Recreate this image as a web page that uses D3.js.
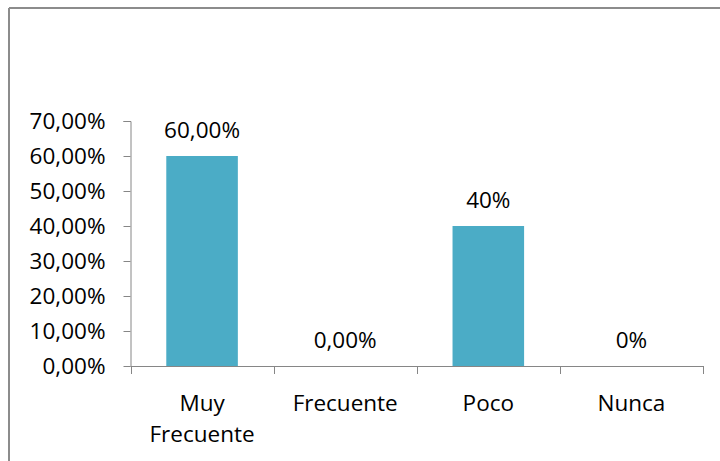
<!DOCTYPE html>
<html>
<head>
<meta charset="utf-8">
<script src="https://cdn.jsdelivr.net/npm/d3@7"></script>
<style>
  html, body { margin: 0; padding: 0; background: #fff; }
  svg { display: block; }
  text { font-family: "Open Sans", "Noto Sans", sans-serif; fill: #000; }
</style>
</head>
<body>
<svg id="chart" width="720" height="461"></svg>
<script>
const categories = ["Muy Frecuente", "Frecuente", "Poco", "Nunca"];
const categoryLines = [["Muy", "Frecuente"], ["Frecuente"], ["Poco"], ["Nunca"]];
const values = [0.60, 0.00, 0.40, 0.00];
const valueLabels = ["60,00%", "0,00%", "40%", "0%"];
const yTicks = [0, 0.1, 0.2, 0.3, 0.4, 0.5, 0.6, 0.7];
const yTickLabels = ["0,00%", "10,00%", "20,00%", "30,00%", "40,00%", "50,00%", "60,00%", "70,00%"];

const svg = d3.select("#chart");
const fontSize = 22.5;
const axisColor = "#868686";
const barColor = "#4BACC6";

// outer frame (top and left visible)
svg.append("line").attr("x1", 9).attr("x2", 720).attr("y1", 8).attr("y2", 8)
  .attr("stroke", "#8c8c8c").attr("stroke-width", 2);
svg.append("line").attr("x1", 9).attr("x2", 9).attr("y1", 8).attr("y2", 461)
  .attr("stroke", "#8c8c8c").attr("stroke-width", 2);

const x0 = 130.5, x1 = 703, yTop = 121, yBot = 366;

const x = d3.scaleBand().domain(categories).range([x0, x1]).paddingInner(0).paddingOuter(0);
const y = d3.scaleLinear().domain([0, 0.7]).range([yBot, yTop]);

// bars
const barW = x.bandwidth() * 0.5;
svg.selectAll("rect.bar").data(values).enter().append("rect")
  .attr("class", "bar")
  .attr("x", (d, i) => x(categories[i]) + (x.bandwidth() - barW) / 2)
  .attr("y", d => y(d))
  .attr("width", barW)
  .attr("height", d => yBot - y(d))
  .attr("fill", barColor);

// y axis
const yAxis = d3.axisLeft(y).tickValues(yTicks).tickFormat((d, i) => yTickLabels[i])
  .tickSize(7).tickPadding(18);
const gy = svg.append("g").attr("transform", `translate(${x0},0)`).call(yAxis);
gy.select(".domain").attr("stroke", axisColor).attr("d", `M-7,${yTop}.5H0.5V${yBot}.5`);
gy.selectAll(".tick line").attr("stroke", axisColor);
gy.selectAll(".tick text").style("font-size", fontSize + "px")
  .style("font-family", '"Open Sans", "Noto Sans", sans-serif').attr("fill", "#000");

// x axis
const xTickPositions = categories.map(c => x(c)).concat([x1]);
svg.append("line").attr("x1", x0).attr("x2", x1).attr("y1", yBot + 0.5).attr("y2", yBot + 0.5)
  .attr("stroke", axisColor);
svg.selectAll("line.xtick").data(xTickPositions).enter().append("line")
  .attr("class", "xtick")
  .attr("x1", d => Math.round(d) + 0.5).attr("x2", d => Math.round(d) + 0.5)
  .attr("y1", yBot).attr("y2", yBot + 8)
  .attr("stroke", axisColor);

// category labels
categoryLines.forEach((lines, i) => {
  const cx = x(categories[i]) + x.bandwidth() / 2;
  const t = svg.append("text").attr("text-anchor", "middle").style("font-size", fontSize + "px");
  lines.forEach((ln, j) => {
    t.append("tspan").attr("x", cx).attr("y", 411 + j * 31).text(ln);
  });
});

// data labels
svg.selectAll("text.dl").data(values).enter().append("text")
  .attr("class", "dl")
  .attr("x", (d, i) => x(categories[i]) + x.bandwidth() / 2)
  .attr("y", d => y(d) - 18)
  .attr("text-anchor", "middle")
  .style("font-size", fontSize + "px")
  .text((d, i) => valueLabels[i]);
</script>
</body>
</html>
